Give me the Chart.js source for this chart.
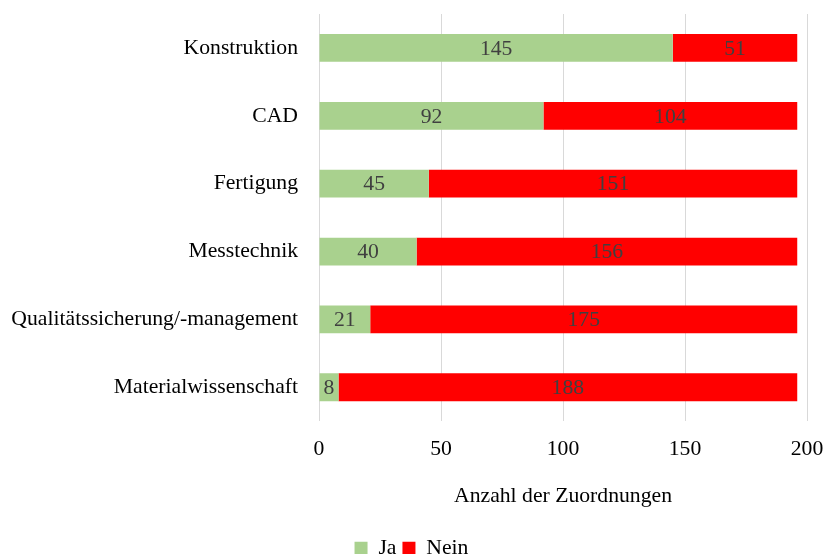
<!DOCTYPE html>
<html><head><meta charset="utf-8">
<script src="https://cdn.jsdelivr.net/npm/chart.js@4/dist/chart.umd.min.js"></script>
<style>html,body{margin:0;padding:0;background:#fff}#wrap{width:830px;height:554px}</style>
</head><body><div id="wrap"><canvas id="c"></canvas></div>
<script>
const categories = ["Konstruktion","CAD","Fertigung","Messtechnik","Qualitätssicherung/-management","Materialwissenschaft"];
const jaValues = [145, 92, 45, 40, 21, 8];
const neinValues = [51, 104, 151, 156, 175, 188];
const xTicks = [0, 50, 100, 150, 200];
const FONT = "'Liberation Serif', 'Times New Roman', serif";
const FS = 21.7;

const labelPlugin = {
  id: 'barLabels',
  afterDatasetsDraw(chart) {
    const ctx = chart.ctx;
    ctx.save();
    ctx.font = FS + "px " + FONT;
    ctx.fillStyle = "#404040";
    ctx.textAlign = "center";
    ctx.textBaseline = "middle";
    chart.data.datasets.forEach((ds, i) => {
      const meta = chart.getDatasetMeta(i);
      meta.data.forEach((bar, j) => {
        const x = (bar.x + bar.base) / 2;
        ctx.fillText(String(ds.data[j]), x, bar.y + 1);
      });
    });
    ctx.restore();
  }
};

new Chart(document.getElementById('c'), {
  type: 'bar',
  data: {
    labels: categories,
    datasets: [
      {label: 'Ja', data: jaValues, backgroundColor: '#A9D18E', categoryPercentage: 1, barPercentage: 0.41},
      {label: 'Nein', data: neinValues, backgroundColor: '#FF0000', categoryPercentage: 1, barPercentage: 0.41}
    ]
  },
  options: {
    indexAxis: 'y',
    responsive: true,
    maintainAspectRatio: false,
    animation: false,
    layout: {padding: {top: 14, right: 7, left: 0, bottom: -15}},
    scales: {
      x: {
        stacked: true, min: 0, max: 200,
        afterBuildTicks: (axis) => { axis.ticks = xTicks.map(v => ({value: v})); },
        afterFit: (s) => { s.paddingLeft = 0; s.paddingRight = 23; },
        grid: {color: '#d9d9d9', drawTicks: false},
        border: {display: false},
        ticks: {color: '#000', font: {family: FONT, size: FS}, padding: 15},
        title: {display: true, text: 'Anzahl der Zuordnungen', color: '#000', font: {family: FONT, size: FS}, padding: {top: 6, bottom: 22}}
      },
      y: {
        stacked: true,
        afterFit: (s) => { s.paddingTop = 0; s.paddingBottom = 0; s.width = 319; },
        grid: {display: false, drawTicks: false},
        border: {display: false},
        ticks: {color: '#000', font: {family: FONT, size: FS}, padding: 21}
      }
    },
    plugins: {
      legend: {
        position: 'bottom',
        labels: {color: '#000', font: {family: FONT, size: FS}, boxWidth: 13, boxHeight: 13, padding: 6}
      },
      tooltip: {enabled: false}
    }
  },
  plugins: [labelPlugin]
});
</script></body></html>
